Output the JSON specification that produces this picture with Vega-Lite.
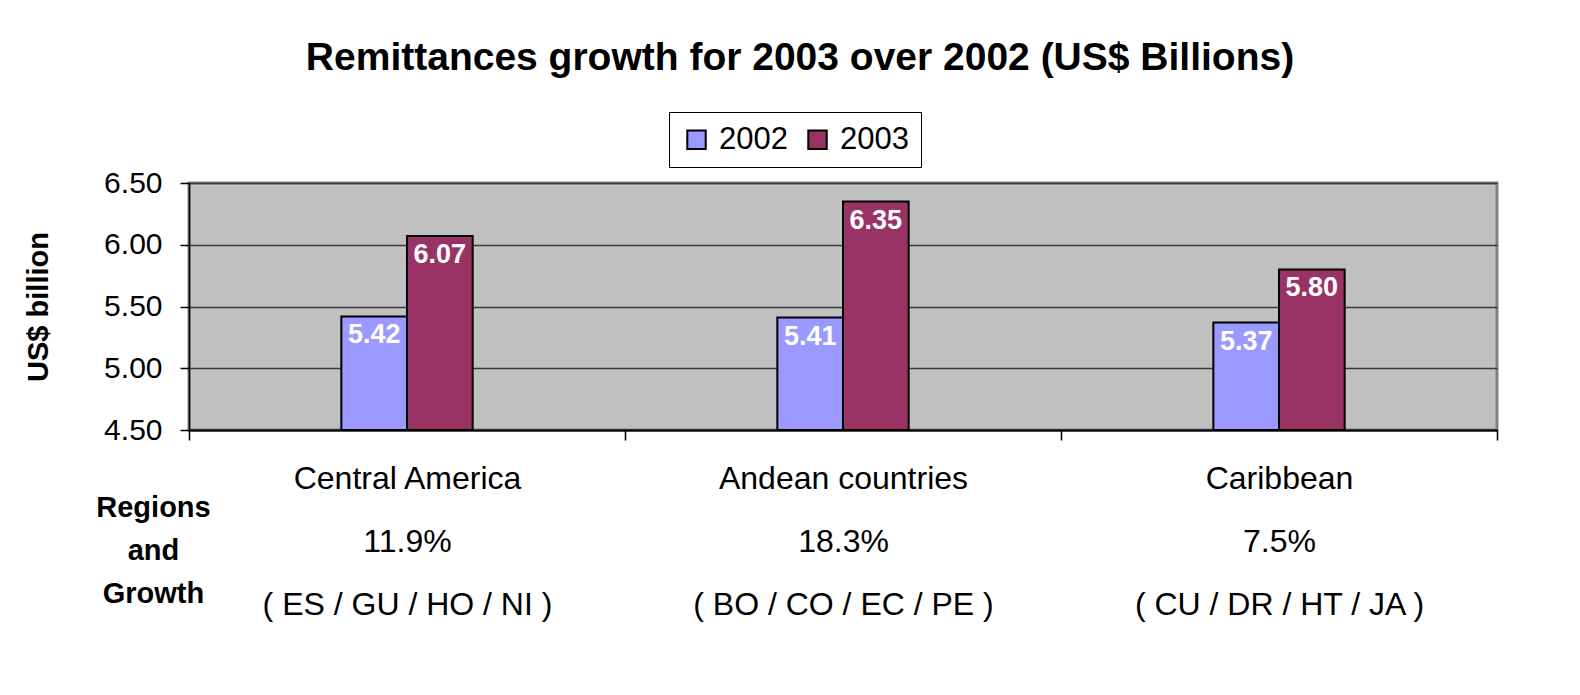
{
  "$schema": "https://vega.github.io/schema/vega-lite/v6.json",
  "width": 1308,
  "height": 247,
  "autosize": {"type": "none"},
  "padding": {"left": 189, "top": 183, "right": 83, "bottom": 265},
  "background": "white",
  "title": {
    "text": "Remittances growth for 2003 over 2002 (US$ Billions)",
    "font": "Liberation Sans",
    "fontSize": 39,
    "fontWeight": "bold",
    "color": "black",
    "anchor": "middle",
    "frame": "group",
    "baseline": "alphabetic",
    "offset": 3,
    "dx": -43
  },
  "config": {
    "view": {"fill": "#C0C0C0", "stroke": "#808080", "strokeWidth": 3},
    "font": "Liberation Sans"
  },
  "data": {
    "values": [
      {"region": "Central America|11.9%|( ES / GU / HO / NI )", "year": "2002", "value": 5.42},
      {"region": "Central America|11.9%|( ES / GU / HO / NI )", "year": "2003", "value": 6.07},
      {"region": "Andean countries|18.3%|( BO / CO / EC / PE )", "year": "2002", "value": 5.41},
      {"region": "Andean countries|18.3%|( BO / CO / EC / PE )", "year": "2003", "value": 6.35},
      {"region": "Caribbean|7.5%|( CU / DR / HT / JA )", "year": "2002", "value": 5.37},
      {"region": "Caribbean|7.5%|( CU / DR / HT / JA )", "year": "2003", "value": 5.80}
    ]
  },
  "encoding": {
    "x": {
      "field": "region",
      "type": "nominal",
      "sort": null,
      "scale": {"paddingInner": 0, "paddingOuter": 0},
      "axis": {
        "title": ["Regions", "and", "Growth"],
        "titleFont": "Liberation Sans",
        "titleFontSize": 29,
        "titleFontWeight": "bold",
        "titleColor": "black",
        "titleX": -36,
        "titleY": 86,
        "titleAlign": "center",
        "titleAngle": 0,
        "titleBaseline": "alphabetic",
        "titleLineHeight": 43,
        "labelExpr": "split(datum.label, '|')",
        "labelAngle": 0,
        "labelFont": "Liberation Sans",
        "labelFontSize": 32,
        "labelColor": "black",
        "labelLineHeight": 63,
        "labelPadding": 23,
        "labelBaseline": "top",
        "labelLimit": 500,
        "tickBand": "extent",
        "tickSize": 10,
        "tickColor": "black",
        "tickWidth": 1.5,
        "domainColor": "black",
        "domainWidth": 2,
        "grid": false
      }
    },
    "xOffset": {
      "field": "year",
      "type": "nominal",
      "scale": {
        "domain": ["gap1", "gap2", "2002", "2003", "gap3", "gap4"],
        "paddingInner": 0,
        "paddingOuter": 0.32
      }
    },
    "y": {
      "field": "value",
      "type": "quantitative",
      "scale": {"domain": [4.5, 6.5], "nice": false, "zero": false},
      "axis": {
        "title": "US$ billion",
        "titleFont": "Liberation Sans",
        "titleFontSize": 29,
        "titleFontWeight": "bold",
        "titleColor": "black",
        "titlePadding": 50,
        "values": [4.5, 5, 5.5, 6, 6.5],
        "format": ".2f",
        "labelFont": "Liberation Sans",
        "labelFontSize": 30,
        "labelColor": "black",
        "labelPadding": 18,
        "tickSize": 9,
        "tickColor": "black",
        "tickWidth": 1.5,
        "domainColor": "black",
        "domainWidth": 1.5,
        "grid": true,
        "gridColor": "#3a3a3a",
        "gridWidth": 1.5
      }
    }
  },
  "layer": [
    {
      "mark": {"type": "bar", "stroke": "black", "strokeWidth": 2},
      "encoding": {
        "y2": {"datum": 4.5},
        "color": {
          "field": "year",
          "type": "nominal",
          "scale": {"domain": ["2002", "2003"], "range": ["#9999FF", "#993366"]},
          "legend": {
            "title": null,
            "orient": "none",
            "legendX": 480,
            "legendY": -71,
            "direction": "horizontal",
            "strokeColor": "black",
            "fillColor": "white",
            "padding": 12,
            "symbolType": "square",
            "symbolSize": 340,
            "symbolStrokeColor": "black",
            "symbolStrokeWidth": 2,
            "symbolOpacity": 1,
            "labelFont": "Liberation Sans",
            "labelFontSize": 31,
            "labelColor": "black",
            "labelOffset": 7,
            "columnPadding": 14
          }
        }
      }
    },
    {
      "mark": {
        "type": "text",
        "color": "white",
        "font": "Liberation Sans",
        "fontSize": 27,
        "fontWeight": "bold",
        "baseline": "middle",
        "dy": 19
      },
      "encoding": {
        "y2": {"datum": 4.5},
        "text": {"field": "value", "type": "quantitative", "format": ".2f"}
      }
    }
  ]
}
